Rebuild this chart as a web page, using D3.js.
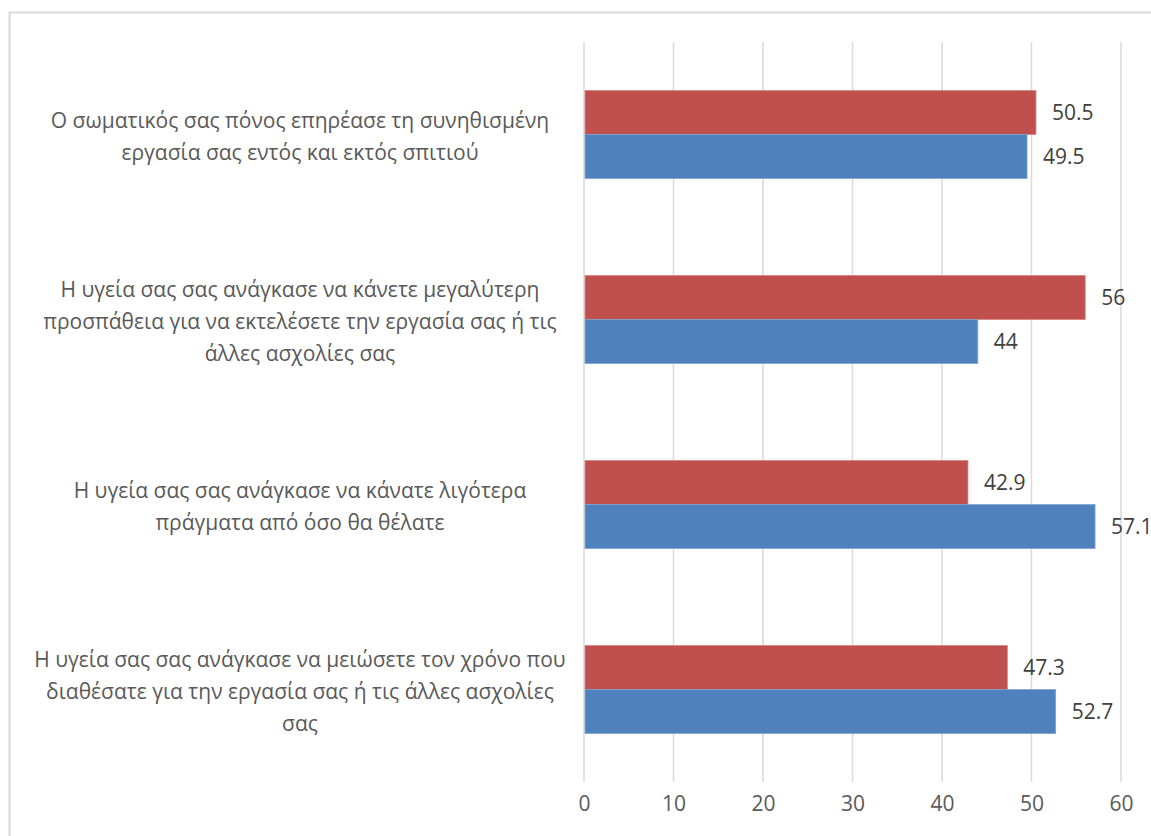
<!DOCTYPE html>
<html>
<head>
<meta charset="utf-8">
<script src="https://cdn.jsdelivr.net/npm/d3@7"></script>
<style>
  body { margin: 0; background: #fff; }
  text { font-family: "Open Sans", sans-serif; }
</style>
</head>
<body>
<div id="chart"></div>
<script>
// categories (each one is a list of lines as they wrap in the picture)
var categories = [
  ["Ο σωματικός σας πόνος επηρέασε τη συνηθισμένη", "εργασία σας εντός και εκτός σπιτιού"],
  ["Η υγεία σας σας ανάγκασε να κάνετε μεγαλύτερη", "προσπάθεια για να εκτελέσετε την εργασία σας ή τις", "άλλες ασχολίες σας"],
  ["Η υγεία σας σας ανάγκασε να κάνατε λιγότερα", "πράγματα από όσο θα θέλατε"],
  ["Η υγεία σας σας ανάγκασε να μειώσετε τον χρόνο που", "διαθέσατε για την εργασία σας ή τις άλλες ασχολίες", "σας"]
];
var redValues = [50.5, 56, 42.9, 47.3];
var blueValues = [49.5, 44, 57.1, 52.7];
var xTicks = [0, 10, 20, 30, 40, 50, 60];

var svgwidth = 1151;
var svgheight = 836;
var svg = d3.select("#chart").append("svg").attr("width", svgwidth).attr("height", svgheight);

// chart border (runs off the right and bottom edge)
svg.append("rect")
  .attr("x", 9.5).attr("y", 12.5)
  .attr("width", 1160).attr("height", 840)
  .attr("fill", "none").attr("stroke", "#d9d9d9").attr("stroke-width", 2);

var xScale = d3.scaleLinear().domain([0, 60]).range([584, 1121]);
var yScale = d3.scaleBand().domain(d3.range(categories.length))
  .range([42, 782]).paddingInner(0.524).paddingOuter(0.262);
var subScale = d3.scaleBand().domain(["red", "blue"]).range([0, yScale.bandwidth()]);

// gridlines
svg.selectAll(".grid").data(xTicks).enter().append("line")
  .attr("x1", d => xScale(d)).attr("x2", d => xScale(d))
  .attr("y1", 42).attr("y2", 782)
  .attr("stroke", "#d9d9d9").attr("stroke-width", 1.5);

// x axis tick labels
var xAxis = d3.axisBottom(xScale).tickValues(xTicks).tickSize(0).tickPadding(0);
var gx = svg.append("g").attr("transform", "translate(0,796)").call(xAxis);
gx.select(".domain").remove();
gx.selectAll("text").attr("font-family", "Open Sans").attr("font-size", 21)
  .attr("fill", "#595959").attr("dy", "0.71em");

var rows = categories.map((c, i) => ({i: i, red: redValues[i], blue: blueValues[i]}));
var series = [
  {key: "red", color: "#c0504d", stroke: "#d48683"},
  {key: "blue", color: "#4f81bd", stroke: "#7fa3cf"}
];

series.forEach(function(s) {
  svg.selectAll(".bar_" + s.key).data(rows).enter().append("rect")
    .attr("x", xScale(0) + 1)
    .attr("y", d => yScale(d.i) + subScale(s.key))
    .attr("width", d => xScale(d[s.key]) - xScale(0) - 1)
    .attr("height", subScale.bandwidth())
    .attr("fill", s.color)
    .attr("stroke", s.stroke).attr("stroke-width", 0.8);

  svg.selectAll(".lbl_" + s.key).data(rows).enter().append("text")
    .attr("x", d => xScale(d[s.key]) + 16)
    .attr("y", d => yScale(d.i) + subScale(s.key) + subScale.bandwidth() / 2)
    .attr("dy", "0.36em")
    .attr("font-size", 21).attr("fill", "#404040")
    .text(d => d[s.key]);
});

// category labels, centred lines
var lineH = 32;
categories.forEach(function(lines, i) {
  var cy = yScale(i) + yScale.bandwidth() / 2 + 2;
  var t = svg.append("text").attr("text-anchor", "middle")
    .attr("font-size", 21).attr("fill", "#595959");
  lines.forEach(function(l, j) {
    t.append("tspan").attr("x", 300)
      .attr("y", cy + (j - (lines.length - 1) / 2) * lineH)
      .attr("dy", "0.36em").text(l);
  });
});
</script>
</body>
</html>
